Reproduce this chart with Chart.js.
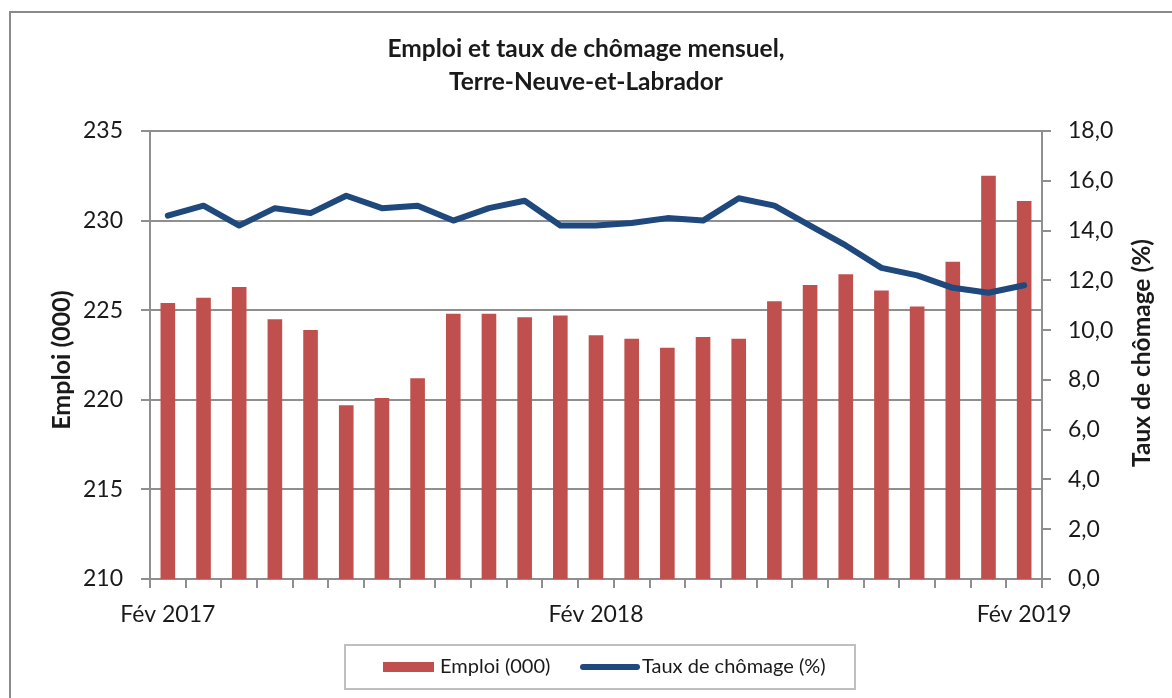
<!DOCTYPE html>
<html lang="fr">
<head>
<meta charset="utf-8">
<title>Emploi et taux de chômage mensuel, Terre-Neuve-et-Labrador</title>
<script src="https://cdn.jsdelivr.net/npm/chart.js@4.4.1/dist/chart.umd.min.js"></script>
<style>
  html, body { margin: 0; padding: 0; background: #ffffff; }
  #wrap { width: 1172px; height: 698px; position: relative; }
</style>
</head>
<body>
<div id="wrap"><canvas id="chart"></canvas></div>
<script>
// data
const months = [
  'Fév 2017', 'Mars 2017', 'Avr 2017', 'Mai 2017', 'Juin 2017', 'Juil 2017', 'Août 2017',
  'Sept 2017', 'Oct 2017', 'Nov 2017', 'Déc 2017', 'Janv 2018', 'Fév 2018', 'Mars 2018',
  'Avr 2018', 'Mai 2018', 'Juin 2018', 'Juil 2018', 'Août 2018', 'Sept 2018', 'Oct 2018',
  'Nov 2018', 'Déc 2018', 'Janv 2019', 'Fév 2019'
];
const shownLabels = ['Fév 2017', 'Fév 2018', 'Fév 2019'];
const emploi = [
  225.4, 225.7, 226.3, 224.5, 223.9, 219.7, 220.1, 221.2, 224.8, 224.8, 224.6, 224.7, 223.6,
  223.4, 222.9, 223.5, 223.4, 225.5, 226.4, 227.0, 226.1, 225.2, 227.7, 232.5, 231.1
];
const chomage = [
  14.6, 15.0, 14.2, 14.9, 14.7, 15.4, 14.9, 15.0, 14.4, 14.9, 15.2, 14.2, 14.2,
  14.3, 14.5, 14.4, 15.3, 15.0, 14.2, 13.4, 12.5, 12.2, 11.7, 11.5, 11.8
];
const seriesNames = ['Emploi (000)', 'Taux de chômage (%)'];
const axisTitles = ['Emploi (000)', 'Taux de chômage (%)'];
const chartTitle = ['Emploi et taux de chômage mensuel,', 'Terre-Neuve-et-Labrador'];

const barColor = '#C0504D';
const lineColor = '#1F497D';
const gridColor = '#8f8f8f';
const textColor = '#1a1a1a';
const fontFamily = 'Lato, "Open Sans", sans-serif';

// frame, axis titles and boxed legend, Excel style
const decor = {
  id: 'decor',
  beforeDraw(chart) {
    const c = chart.ctx;
    c.save();
    c.fillStyle = '#ffffff';
    c.fillRect(0, 0, chart.width, chart.height);
    c.strokeStyle = '#8a8a8a';
    c.lineWidth = 2;
    c.strokeRect(10, 12, chart.width + 20, chart.height + 20);
    c.restore();
  },
  afterDraw(chart) {
    const c = chart.ctx;
    const ca = chart.chartArea;
    const midY = (ca.top + ca.bottom) / 2;
    c.save();
    c.fillStyle = textColor;
    c.textAlign = 'center';
    c.textBaseline = 'middle';
    c.font = 'bold 25px ' + fontFamily;
    c.translate(62, midY + 5);
    c.rotate(-Math.PI / 2);
    c.fillText(axisTitles[0], 0, 0);
    c.restore();

    c.save();
    c.fillStyle = textColor;
    c.textAlign = 'center';
    c.textBaseline = 'middle';
    c.font = 'bold 24.5px ' + fontFamily;
    c.translate(1142, midY - 2);
    c.rotate(-Math.PI / 2);
    c.fillText(axisTitles[1], 0, 0);
    c.restore();

    // legend
    const bx = ca.left + 195, by = 645, bw = 510, bh = 44;
    const cy = by + bh / 2;
    c.save();
    c.strokeStyle = '#bfbfbf';
    c.lineWidth = 2;
    c.strokeRect(bx, by, bw, bh);
    c.fillStyle = barColor;
    c.fillRect(bx + 38, cy - 5, 51, 10);
    c.strokeStyle = lineColor;
    c.lineWidth = 6;
    c.lineCap = 'round';
    c.beginPath();
    c.moveTo(bx + 238, cy);
    c.lineTo(bx + 292, cy);
    c.stroke();
    c.fillStyle = textColor;
    c.font = '20px ' + fontFamily;
    c.textAlign = 'left';
    c.textBaseline = 'middle';
    c.fillText(seriesNames[0], bx + 95, cy);
    c.fillText(seriesNames[1], bx + 297, cy);
    c.restore();
  }
};

new Chart(document.getElementById('chart'), {
  data: {
    labels: months,
    datasets: [
      {
        type: 'line',
        label: seriesNames[1],
        data: chomage,
        yAxisID: 'y1',
        borderColor: lineColor,
        borderWidth: 6,
        borderCapStyle: 'round',
        borderJoinStyle: 'round',
        pointRadius: 0,
        tension: 0,
        order: 0
      },
      {
        type: 'bar',
        label: seriesNames[0],
        data: emploi,
        yAxisID: 'y',
        backgroundColor: barColor,
        barPercentage: 0.41,
        categoryPercentage: 1,
        order: 1
      }
    ]
  },
  plugins: [decor],
  options: {
    responsive: true,
    maintainAspectRatio: false,
    animation: false,
    layout: { padding: 0 },
    plugins: {
      legend: { display: false },
      tooltip: { enabled: false },
      title: {
        display: true,
        text: chartTitle,
        color: textColor,
        font: { family: fontFamily, size: 24.5, weight: 'bold', lineHeight: 33 / 24.5 },
        padding: { top: 33, bottom: 32 }
      }
    },
    scales: {
      x: {
        offset: true,
        grid: { offset: true, drawOnChartArea: false, drawTicks: true, tickLength: 9, color: gridColor, lineWidth: 2 },
        border: { display: true, color: gridColor, width: 2 },
        ticks: {
          autoSkip: false,
          maxRotation: 0,
          padding: 13,
          color: textColor,
          font: { family: fontFamily, size: 23 },
          callback(value, index) {
            const lab = months[index];
            return shownLabels.includes(lab) ? lab : '';
          }
        },
        afterFit(scale) { scale.height = 119; }
      },
      y: {
        position: 'left',
        min: 210,
        max: 235,
        grid: { color: gridColor, lineWidth: 2, tickLength: 9 },
        border: { color: gridColor, width: 2 },
        ticks: {
          stepSize: 5,
          padding: 18,
          color: textColor,
          font: { family: fontFamily, size: 23 }
        },
        afterFit(scale) { scale.width = 150; }
      },
      y1: {
        position: 'right',
        min: 0,
        max: 18,
        grid: { drawOnChartArea: false, color: gridColor, lineWidth: 2, tickLength: 9 },
        border: { color: gridColor, width: 2 },
        ticks: {
          stepSize: 2,
          padding: 17,
          color: textColor,
          font: { family: fontFamily, size: 23 },
          callback: (v) => v.toFixed(1).replace('.', ',')
        },
        afterFit(scale) { scale.width = 130; }
      }
    }
  }
});
</script>
</body>
</html>
